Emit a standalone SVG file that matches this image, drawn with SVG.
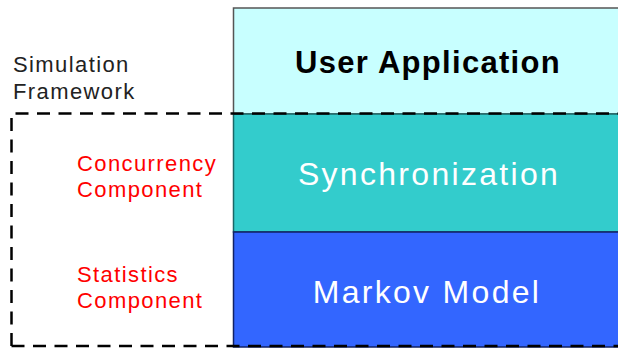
<svg xmlns="http://www.w3.org/2000/svg" width="618" height="351" viewBox="0 0 618 351">
<style>
.lbl{font-family:"Liberation Sans",Arial,sans-serif;font-size:22px;letter-spacing:1.4px}
.side{fill:#ff0000}
.big{font-family:"Liberation Sans",Arial,sans-serif;font-size:32px;text-anchor:middle;letter-spacing:2.3px}
.dash{fill:none;stroke:#000;stroke-width:2.5;stroke-dasharray:13 8.5}
</style>
<rect width="618" height="351" fill="#fff"/>
<g id="user-application">
<rect x="233.5" y="8" width="400" height="106" fill="#c8ffff" stroke="#555" stroke-width="1.5"/>
<text class="big" x="428" y="73" font-weight="bold" fill="#000" style="font-size:31px;letter-spacing:1.3px">User Application</text>
</g>
<g id="synchronization">
<rect x="233.5" y="114" width="400" height="118" fill="#33cccc" stroke="#1a6666" stroke-width="1.5"/>
<text class="big" x="429" y="185" fill="#fff">Synchronization</text>
</g>
<g id="markov-model">
<rect x="233.5" y="232" width="400" height="115" fill="#3366ff" stroke="#112266" stroke-width="1.5"/>
<text class="big" x="427" y="303" fill="#fff">Markov Model</text>
</g>
<g id="simulation-framework">
<path class="dash" d="M11.5,346 V113.5 H630"/>
<path class="dash" d="M11.5,346 H630"/>
<text class="lbl" x="13" y="72" fill="#222">Simulation</text>
<text class="lbl" x="13" y="99" fill="#222">Framework</text>
</g>
<g id="concurrency-component">
<text class="lbl side" x="77" y="171">Concurrency</text>
<text class="lbl side" x="77" y="197">Component</text>
</g>
<g id="statistics-component">
<text class="lbl side" x="77" y="282">Statistics</text>
<text class="lbl side" x="77" y="308">Component</text>
</g>
<g id="connectors"/>
</svg>
